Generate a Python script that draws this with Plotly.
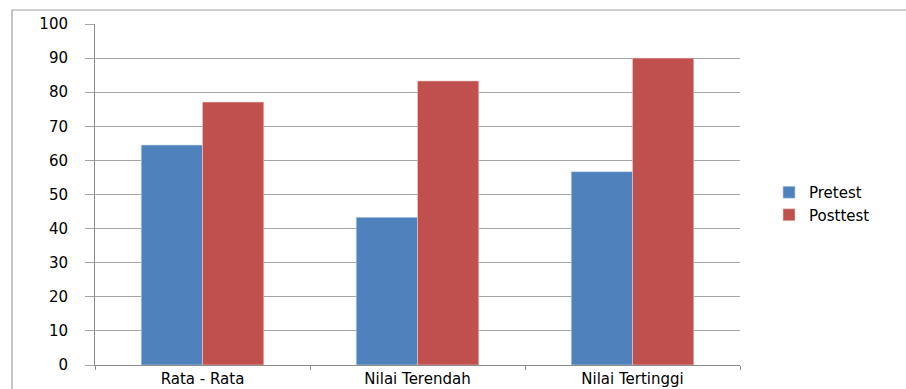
import plotly.graph_objects as go

categories = ["Rata - Rata", "Nilai Terendah", "Nilai Tertinggi"]
pretest = [64.5, 43.3, 56.7]
posttest = [77.1, 83.3, 90.0]
y_ticks = [0, 10, 20, 30, 40, 50, 60, 70, 80, 90, 100]

W, H = 906, 389
L, R, T, B = 95, 166, 24, 24
pw = W - L - R
ph = H - T - B

font = dict(family="DejaVu Sans, Verdana, sans-serif", size=15, color="#000000")

fig = go.Figure()
fig.add_trace(go.Bar(name="Pretest", x=categories, y=pretest,
                     marker=dict(color="#4F81BD", line=dict(color="#c9d6ea", width=0.6))))
fig.add_trace(go.Bar(name="Posttest", x=categories, y=posttest,
                     marker=dict(color="#C0504D", line=dict(color="#ead0cf", width=0.6))))

fig.update_layout(
    width=W, height=H,
    margin=dict(l=L, r=R, t=T, b=B, autoexpand=False),
    paper_bgcolor="white", plot_bgcolor="white",
    barmode="group", bargap=0.43, bargroupgap=0,
    font=font,
    showlegend=True,
    legend=dict(x=(769 - L) / pw, y=(ph - (176 - T)) / ph, xanchor="left", yanchor="top",
                font=font, itemwidth=30, tracegroupgap=0, bgcolor="rgba(0,0,0,0)"),
    xaxis=dict(type="category", showgrid=False, showline=True, linecolor="#8c8c8c",
               linewidth=1, ticks="outside", tickson="boundaries", ticklen=4,
               tickcolor="#8c8c8c", tickfont=font, automargin=False),
    yaxis=dict(range=[0, 100], tickvals=y_ticks, showgrid=True, gridcolor="#a6a6a6",
               gridwidth=1, showline=True, linecolor="#8c8c8c", linewidth=1,
               ticks="outside", ticklen=9, tickcolor="#a6a6a6", tickfont=font,
               ticklabelstandoff=14, zeroline=False, automargin=False),
    shapes=[dict(type="rect", xref="paper", yref="paper",
                 x0=(12 - L) / pw, x1=(W + 5 - L) / pw,
                 y0=-(B + 10) / ph, y1=(ph + (T - 10)) / ph,
                 line=dict(color="#a0a0a0", width=1.2), fillcolor="rgba(0,0,0,0)",
                 layer="below")],
)

fig.write_html("out.html")
